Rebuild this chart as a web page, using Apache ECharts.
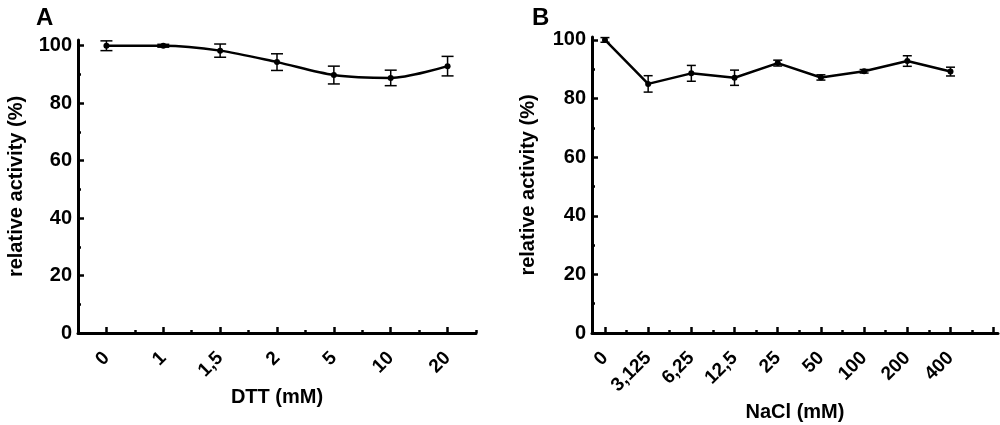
<!DOCTYPE html>
<html>
<head>
<meta charset="utf-8">
<script src="https://cdn.jsdelivr.net/npm/echarts@6/dist/echarts.min.js"></script>
<style>
html,body{margin:0;padding:0;background:#fff}
#main{width:1000px;height:425px}
</style>
</head>
<body>
<div id="main"></div>
<script>
// A: DTT
var dttLabels = ['0', '1', '1,5', '2', '5', '10', '20'];
var dttMean = [100, 100, 98.3, 94.3, 89.8, 88.8, 92.9];
var dttErr = [1.7, 0.5, 2.3, 2.9, 3.1, 2.7, 3.4];
// B: NaCl
var naclLabels = ['0', '3,125', '6,25', '12,5', '25', '50', '100', '200', '400'];
var naclMean = [100, 85.0, 88.6, 87.1, 92.1, 87.2, 89.3, 92.8, 89.2];
var naclErr = [0.8, 2.8, 2.7, 2.6, 1.0, 0.9, 0.6, 1.8, 1.5];
// ticks
var yMajor = [0, 20, 40, 60, 80, 100];
var yMinor = [10, 30, 50, 70, 90];
var dttMajor = [0, 1, 2, 3, 4, 5, 6];
var dttMinor = [0.5, 1.5, 2.5, 3.5, 4.5, 5.5, 6.5];
var naclMajor = [0, 1, 2, 3, 4, 5, 6, 7, 8, 9];
var naclMinor = [0.5, 1.5, 2.5, 3.5, 4.5, 5.5, 6.5, 7.5, 8.5];

var FONT = 'Liberation Sans';
var chart = echarts.init(document.getElementById('main'));

function pts(mean) {
  var d = [];
  for (var i = 0; i < mean.length; i++) d.push([i, mean[i]]);
  return d;
}
function bars(mean, err) {
  var d = [];
  for (var i = 0; i < mean.length; i++) d.push([i, mean[i] - err[i], mean[i] + err[i]]);
  return d;
}
function errItem(cap) {
  return function (params, api) {
    var x = api.value(0);
    var lo = api.coord([x, api.value(1)]);
    var hi = api.coord([x, api.value(2)]);
    var st = { stroke: '#000', lineWidth: 1.5 };
    return {
      type: 'group',
      children: [
        { type: 'line', shape: { x1: lo[0], y1: lo[1], x2: hi[0], y2: hi[1] }, style: st },
        { type: 'line', shape: { x1: lo[0] - cap, y1: lo[1], x2: lo[0] + cap, y2: lo[1] }, style: st },
        { type: 'line', shape: { x1: hi[0] - cap, y1: hi[1], x2: hi[0] + cap, y2: hi[1] }, style: st }
      ]
    };
  };
}

function xMain(grid, min, max, ticks, labels, name, gap) {
  return {
    type: 'value', gridIndex: grid, position: 'bottom', min: min, max: max,
    name: name, nameLocation: 'middle', nameGap: gap,
    nameTextStyle: { fontFamily: FONT, fontWeight: 'bold', fontSize: 20, color: '#000' },
    splitLine: { show: false },
    axisLine: { onZero: false, lineStyle: { color: '#000', width: 3 } },
    axisTick: { inside: true, length: 6, customValues: ticks, lineStyle: { color: '#000', width: 2.5 } },
    axisLabel: {
      customValues: ticks, rotate: 45, margin: 22,
      fontFamily: FONT, fontWeight: 'bold', fontSize: 19, color: '#000',
      formatter: function (v) { return labels[Math.round(v)] || ''; }
    }
  };
}
function xMinor(grid, min, max, ticks) {
  return {
    type: 'value', gridIndex: grid, position: 'bottom', min: min, max: max,
    splitLine: { show: false },
    axisLine: { show: false, onZero: false },
    axisTick: { inside: true, length: 3, customValues: ticks, lineStyle: { color: '#000', width: 2.5 } },
    axisLabel: { show: false }
  };
}
function yMain(grid, max, gap) {
  return {
    type: 'value', gridIndex: grid, position: 'left', min: 0, max: max,
    name: 'relative activity (%)', nameLocation: 'middle', nameGap: gap,
    nameTextStyle: { fontFamily: FONT, fontWeight: 'bold', fontSize: 20, color: '#000' },
    splitLine: { show: false },
    axisLine: { onZero: false, lineStyle: { color: '#000', width: 3 } },
    axisTick: { inside: true, length: 6, customValues: yMajor, lineStyle: { color: '#000', width: 2.5 } },
    axisLabel: { customValues: yMajor, margin: 6, fontFamily: FONT, fontWeight: 'bold', fontSize: 20, color: '#000' }
  };
}
function yMin(grid, max) {
  return {
    type: 'value', gridIndex: grid, position: 'left', min: 0, max: max,
    splitLine: { show: false },
    axisLine: { show: false, onZero: false },
    axisTick: { inside: true, length: 3, customValues: yMinor, lineStyle: { color: '#000', width: 2.5 } },
    axisLabel: { show: false }
  };
}

var option = {
  backgroundColor: '#fff',
  animation: false,
  title: [
    { text: 'A', left: 31, top: 1, textStyle: { fontFamily: FONT, fontWeight: 'bold', fontSize: 24, color: '#000' } },
    { text: 'B', left: 527, top: 1, textStyle: { fontFamily: FONT, fontWeight: 'bold', fontSize: 24, color: '#000' } }
  ],
  grid: [
    { left: 78, width: 398, top: 40, bottom: 92, outerBoundsMode: 'none', containLabel: false },
    { left: 592, width: 406, top: 37, bottom: 92, outerBoundsMode: 'none', containLabel: false }
  ],
  xAxis: [
    xMain(0, -0.5, 6.5, dttMajor, dttLabels, 'DTT (mM)', 54),
    xMinor(0, -0.5, 6.5, dttMinor),
    xMain(1, -0.3, 9.1, naclMajor, naclLabels, 'NaCl (mM)', 66),
    xMinor(1, -0.3, 9.1, naclMinor)
  ],
  yAxis: [
    yMain(0, 102, 52),
    yMin(0, 102),
    yMain(1, 101, 54),
    yMin(1, 101)
  ],
  series: [
    {
      type: 'custom', xAxisIndex: 0, yAxisIndex: 0, renderItem: errItem(6),
      encode: { x: 0, y: [1, 2] }, data: bars(dttMean, dttErr), z: 2
    },
    {
      type: 'line', xAxisIndex: 0, yAxisIndex: 0, data: pts(dttMean), smooth: 0.3,
      symbol: 'circle', symbolSize: 6, itemStyle: { color: '#000' },
      lineStyle: { color: '#000', width: 2.5 }, z: 3
    },
    {
      type: 'custom', xAxisIndex: 2, yAxisIndex: 2, renderItem: errItem(4.5),
      encode: { x: 0, y: [1, 2] }, data: bars(naclMean, naclErr), z: 2
    },
    {
      type: 'line', xAxisIndex: 2, yAxisIndex: 2, data: pts(naclMean),
      symbol: 'circle', symbolSize: 6, itemStyle: { color: '#000' },
      lineStyle: { color: '#000', width: 2.5 }, z: 3
    }
  ]
};
chart.setOption(option);
</script>
</body>
</html>
